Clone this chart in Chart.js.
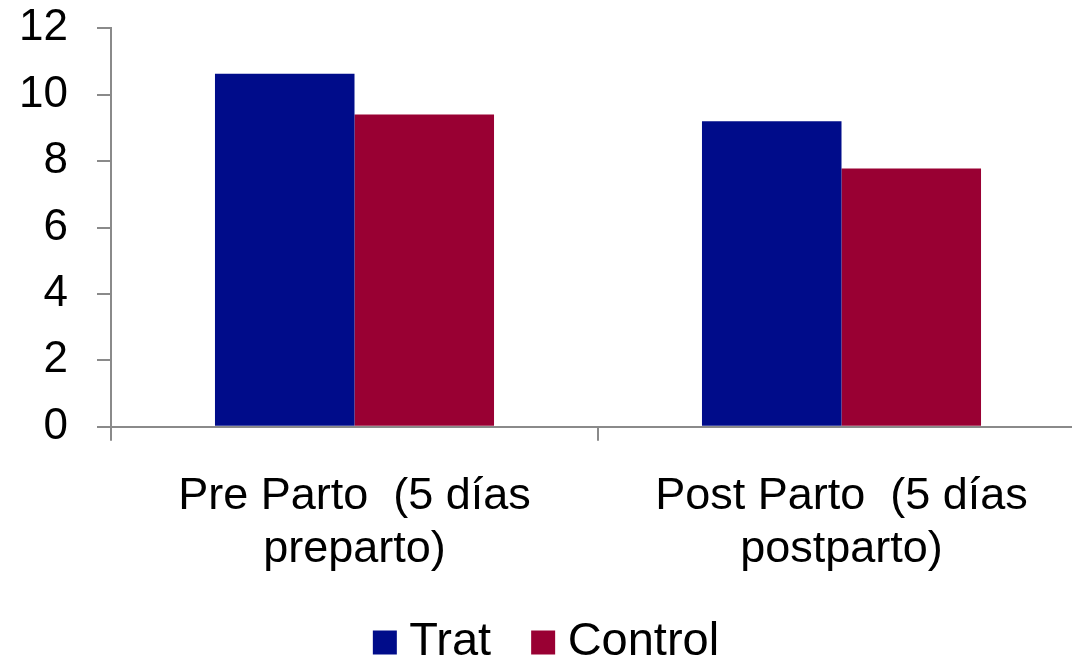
<!DOCTYPE html>
<html>
<head>
<meta charset="utf-8">
<script src="https://cdn.jsdelivr.net/npm/chart.js@4/dist/chart.umd.min.js"></script>
<style>
html,body{margin:0;padding:0;overflow:hidden;background:#fff;width:1072px;height:663px;}
canvas{display:block;position:absolute;left:0;top:0;}
</style>
</head>
<body>
<canvas id="c" width="1103" height="676"></canvas>
<script>
const categories = [["Pre Parto  (5 días", "preparto)"], ["Post Parto  (5 días", "postparto)"]];
const seriesNames = ["Trat", "Control"];
const tratValues = [10.63, 9.2];
const controlValues = [9.4, 7.78];
const yTicks = [0, 2, 4, 6, 8, 10, 12];

const colors = ["#000C8A", "#990033"];
const axisGrey = "#8a8a8a";
const FONT = "'Liberation Sans', Arial, sans-serif";

const widenXClip = {
  id: 'widenXClip',
  afterLayout(chart) { chart.scales.x.bottom = chart.height; }
};

new Chart(document.getElementById('c'), {
  type: 'bar',
  data: {
    labels: categories,
    datasets: [
      { label: seriesNames[0], data: tratValues, backgroundColor: colors[0], borderWidth: 0,
        barPercentage: 1.0, categoryPercentage: 0.573 },
      { label: seriesNames[1], data: controlValues, backgroundColor: colors[1], borderWidth: 0,
        barPercentage: 1.0, categoryPercentage: 0.573 }
    ]
  },
  plugins: [widenXClip],
  options: {
    responsive: false,
    animation: false,
    devicePixelRatio: 1,
    layout: { padding: { left: 0, right: 0, top: 28.3, bottom: 0 } },
    plugins: {
      tooltip: { enabled: false },
      legend: {
        position: 'bottom',
        labels: {
          usePointStyle: true,
          pointStyle: 'rect',
          boxWidth: 2,
          boxHeight: 24,
          padding: 51,
          color: '#000',
          font: { family: FONT, size: 47 }
        }
      }
    },
    scales: {
      x: {
        offset: true,
        grid: { offset: true, drawOnChartArea: false, drawTicks: true, tickLength: 14, color: axisGrey, lineWidth: 2 },
        border: { display: true, color: axisGrey, width: 2 },
        ticks: { color: '#000', padding: 29, maxRotation: 0, autoSkip: false,
                 font: { family: FONT, size: 45, lineHeight: 1.18 } },
        afterFit: (s) => { s.height = 141.3; s.paddingLeft = 0; s.paddingRight = 0; }
      },
      y: {
        min: 0, max: 12,
        afterBuildTicks: (s) => { s.ticks = yTicks.map(v => ({ value: v })); },
        grid: { drawOnChartArea: false, drawTicks: true, tickLength: 14, color: axisGrey, lineWidth: 2 },
        border: { display: true, color: axisGrey, width: 2 },
        ticks: { color: '#000', padding: 29, font: { family: FONT, size: 44 } },
        afterFit: (s) => { s.width = 111; s.paddingTop = 0; s.paddingBottom = 0; }
      },
      yRightSpacer: {
        type: 'linear',
        position: 'right',
        display: true,
        grid: { display: false, drawTicks: false },
        border: { display: false },
        ticks: { display: false },
        afterFit: (s) => { s.width = 18; s.paddingTop = 0; s.paddingBottom = 0; }
      }
    }
  }
});
</script>
</body>
</html>
